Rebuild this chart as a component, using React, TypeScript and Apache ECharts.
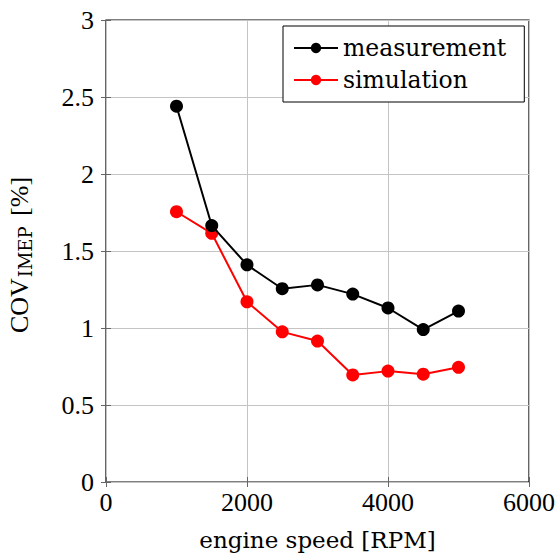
import React, { useEffect, useRef } from "react";
import * as echarts from "echarts";

const rpm = [1000, 1500, 2000, 2500, 3000, 3500, 4000, 4500, 5000];
const measurement = [2.44, 1.665, 1.41, 1.255, 1.28, 1.22, 1.13, 0.99, 1.11];
const simulation = [1.755, 1.615, 1.17, 0.975, 0.915, 0.695, 0.72, 0.7, 0.745];
const seriesNames = ["measurement", "simulation"];
const xName = "engine speed [RPM]";

const TEXT_FONT = "DejaVu Serif";
const NUM_FONT = "Liberation Serif";

export default function App() {
  const ref = useRef<HTMLDivElement>(null);
  useEffect(() => {
    const chart = echarts.init(ref.current!, null, { renderer: "svg" });
    const gridLine = { show: true, lineStyle: { color: "#c4c4c4", width: 1 } };
    const tick = { show: true, inside: true, length: 5, lineStyle: { color: "#666", width: 1 } };
    chart.setOption({
      animation: false,
      backgroundColor: "#ffffff",
      textStyle: { fontFamily: TEXT_FONT },
      grid: {
        left: 106,
        top: 20,
        right: 28,
        bottom: 76,
        outerBoundsMode: "none",
        containLabel: false,
        show: true,
        borderColor: "#000",
        borderWidth: 1.2,
        backgroundColor: "transparent",
      },
      legend: {
        data: seriesNames,
        left: 283,
        top: 26,
        orient: "vertical",
        backgroundColor: "#fff",
        borderColor: "#000",
        borderWidth: 1,
        padding: [9, 18, 9, 10],
        itemGap: 6,
        itemWidth: 44,
        itemHeight: 13,
        textStyle: { fontFamily: TEXT_FONT, fontSize: 23.5, lineHeight: 26, color: "#000" },
      },
      xAxis: [
        {
          type: "value",
          min: 0,
          max: 6000,
          interval: 2000,
          name: xName,
          nameLocation: "middle",
          nameGap: 46,
          nameTextStyle: { fontFamily: TEXT_FONT, fontSize: 23, color: "#000" },
          axisLine: { show: false },
          axisTick: tick,
          axisLabel: {
            fontFamily: NUM_FONT,
            fontSize: 26,
            color: "#000",
            margin: 7,
            formatter: (v: number) => String(v),
          },
          splitLine: gridLine,
        },
        {
          type: "value",
          position: "top",
          min: 0,
          max: 6000,
          interval: 2000,
          axisLine: { show: false },
          axisTick: tick,
          axisLabel: { show: false },
          splitLine: { show: false },
        },
      ],
      yAxis: [
        {
          type: "value",
          min: 0,
          max: 3,
          interval: 0.5,
          name: "{a|COV}{b|IMEP}{c| [%]}",
          nameLocation: "middle",
          nameGap: 72,
          nameRotate: 90,
          nameTextStyle: {
            color: "#000",
            rich: {
              a: { fontFamily: NUM_FONT, fontSize: 26, color: "#000", lineHeight: 30, verticalAlign: "middle" },
              b: { fontFamily: TEXT_FONT, fontSize: 18, color: "#000", lineHeight: 30, verticalAlign: "bottom", padding: [12, 0, 0, 1] },
              c: { fontFamily: NUM_FONT, fontSize: 26, color: "#000", lineHeight: 30, verticalAlign: "middle", padding: [0, 8, 0, 4] },
            },
          },
          axisLine: { show: false },
          axisTick: tick,
          axisLabel: { fontFamily: NUM_FONT, fontSize: 26, color: "#000", margin: 12 },
          splitLine: gridLine,
        },
        {
          type: "value",
          position: "right",
          min: 0,
          max: 3,
          interval: 0.5,
          axisLine: { show: false },
          axisTick: tick,
          axisLabel: { show: false },
          splitLine: { show: false },
        },
      ],
      series: [
        {
          name: seriesNames[0],
          type: "line",
          data: rpm.map((x, i) => [x, measurement[i]]),
          color: "#000",
          symbol: "circle",
          symbolSize: 13,
          lineStyle: { width: 2, color: "#000" },
          itemStyle: { color: "#000" },
          z: 3,
        },
        {
          name: seriesNames[1],
          type: "line",
          data: rpm.map((x, i) => [x, simulation[i]]),
          color: "#ff0000",
          symbol: "circle",
          symbolSize: 13,
          lineStyle: { width: 2, color: "#ff0000" },
          itemStyle: { color: "#ff0000" },
          z: 2,
        },
      ],
    });
    return () => chart.dispose();
  }, []);
  return (
    <div
      ref={ref}
      style={{ position: "absolute", left: 0, top: 0, width: 557, height: 558 }}
    />
  );
}
